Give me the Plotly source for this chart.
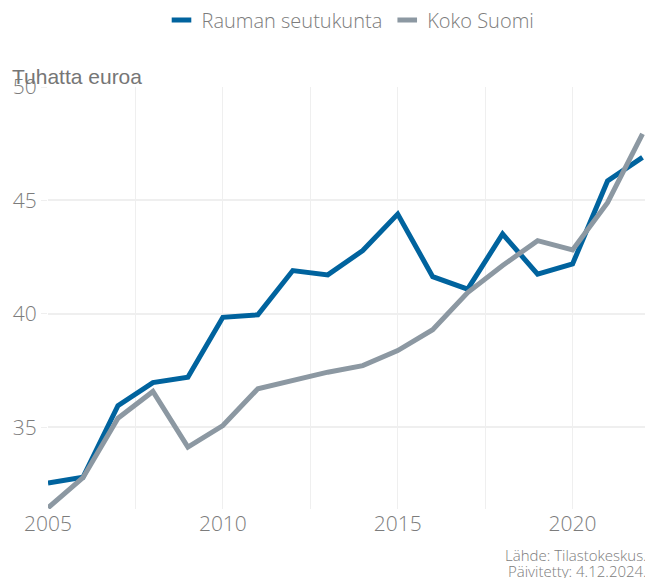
import plotly.graph_objects as go

years = list(range(2005, 2023))
rauma = [32.55, 32.8, 35.95, 36.97, 37.21, 39.85, 39.96, 41.91, 41.72, 42.79,
         44.4, 41.64, 41.09, 43.52, 41.75, 42.2, 45.86, 46.9]
suomi = [31.45, 32.78, 35.4, 36.58, 34.13, 35.08, 36.7, 37.06, 37.43, 37.72,
         38.38, 39.3, 40.94, 42.13, 43.23, 42.82, 44.9, 47.93]
series_names = ["Rauman seutukunta", "Koko Suomi"]
colors = ["#00639e", "#8c98a2"]

font_main = "'Open Sans', 'Noto Sans', sans-serif"
grey_text = "#7c7c7c"

fig = go.Figure()
for name, vals, col in zip(series_names, [rauma, suomi], colors):
    fig.add_trace(go.Scatter(x=years, y=vals, name=name, mode="lines",
                             line=dict(color=col, width=5), showlegend=False))
# legend entries with short swatches
for name, col in zip(series_names, colors):
    fig.add_trace(go.Scatter(x=[None], y=[None], name=name, mode="markers",
                             marker=dict(symbol="line-ew", size=14,
                                         line=dict(color=col, width=5)),
                             showlegend=True))

fig.update_layout(
    width=645, height=570,
    margin=dict(l=40, r=0, t=79, b=69),
    paper_bgcolor="white", plot_bgcolor="white",
    font=dict(family=font_main, color=grey_text, size=18, weight=300),
    legend=dict(orientation="h", x=0.5, xanchor="center", y=1 - 12 / 570,
                yanchor="middle", yref="container",
                font=dict(size=20, color=grey_text, weight=300)),
    showlegend=True,
)
fig.update_xaxes(range=[2005, 2022.3], tickvals=[2005, 2010, 2015, 2020],
                 showgrid=True, gridcolor="#efefef", gridwidth=1,
                 minor=dict(dtick=2.5, tick0=2005, showgrid=True, gridcolor="#efefef"),
                 zeroline=False, showline=False, ticks="",
                 tickfont=dict(size=21, weight=300))
fig.update_yaxes(range=[31.4, 50], tickvals=[35, 40, 45, 50],
                 showgrid=True, gridcolor="#efefef", gridwidth=1.5,
                 zeroline=False, showline=False, ticks="outside", ticklen=6,
                 tickcolor="#efefef", tickfont=dict(size=21, weight=300))

fig.add_annotation(text="Tuhatta euroa", xref="paper", yref="paper",
                   x=-38 / 605, y=1.0, xanchor="left", yanchor="bottom", yshift=-3,
                   showarrow=False,
                   font=dict(family="'Liberation Sans', Arial, sans-serif", size=21,
                             color="#767676", weight=400))
fig.add_annotation(text="Lähde: Tilastokeskus.",
                   xref="paper", yref="paper", x=1.0, y=0, xanchor="right", yanchor="middle",
                   yshift=-45.5, showarrow=False, xshift=-4,
                   font=dict(size=15, color=grey_text))
fig.add_annotation(text="Päivitetty: 4.12.2024.",
                   xref="paper", yref="paper", x=1.0, y=0, xanchor="right", yanchor="middle",
                   yshift=-61.5, showarrow=False, xshift=-4,
                   font=dict(size=15, color=grey_text))

fig.write_html("out.html")
